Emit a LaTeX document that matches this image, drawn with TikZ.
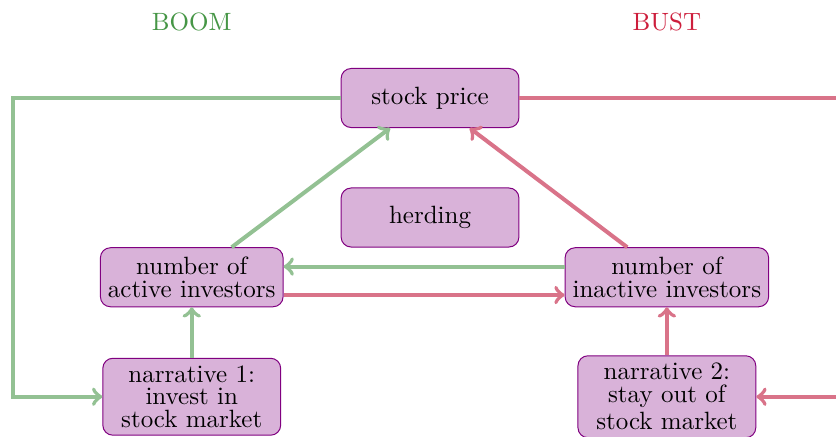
\documentclass[tikz,border=0pt]{standalone}
\usepackage{tikz}
\usetikzlibrary{positioning}
\usetikzlibrary{calc}
\usepackage{xcolor}

\definecolor{boomtext}{RGB}{70,150,70}
\definecolor{boomline}{RGB}{147,193,147}
\definecolor{busttext}{RGB}{205,30,60}
\definecolor{bustline}{RGB}{217,115,137}

\begin{document}
\begin{tikzpicture}[
  box/.style={
      draw=violet,
      fill=violet!30,
      rounded corners,
      align=center,
      inner sep=3pt,
      minimum width=2.5cm,
      minimum height=0.83cm,
      font=\fontsize{10}{9}\selectfont
  },
  boom/.style={
      ->,
      draw=boomline,
      line width=1.6pt
  },
  bust/.style={
      ->,
      draw=bustline,
      line width=1.6pt
  }
]

\clip (-6.046,1.378) rectangle (5.708,-4.766);

\node[text=boomtext] (boomlbl) at (-3.35,1.07) {BOOM};
\node[text=busttext] (bustlbl) at (3.33,1.07) {BUST};

\node[box] (price) at (0,0) {stock price};

\node[box] (herd) at (0,-1.68) {herding};

\node[box] (active) at (-3.35,-2.52)
{
number of\\
active investors
};

\node[box] (inactive) at (3.33,-2.52)
{
number of\\
inactive investors
};

\node[box] (narr1) at (-3.35,-4.2)
{
narrative 1:\\
invest in\\
stock market
};

\node[box] (narr2) at (3.33,-4.2)
{
narrative 2:\\
stay out of\\[2pt]
stock market
};

\coordinate (leftcorner) at (-5.86,0);
\coordinate (rightcorner) at (5.86,0);

\draw[boom] (active) -- (price);
\draw[bust] (inactive) -- (price);

\draw[boom] ([yshift=0.15cm]inactive.west) -- ([yshift=0.15cm]active.east);
\draw[bust] ([yshift=-0.25cm]active.east) -- ([yshift=-0.25cm]inactive.west);

\draw[boom] (narr1) -- (active);
\draw[bust] (narr2) -- (inactive);

\draw[boom] (price.west) -- (leftcorner) |- (narr1.west);
\draw[bust] (price.east) -- (rightcorner) |- (narr2.east);

\end{tikzpicture}
\end{document}
